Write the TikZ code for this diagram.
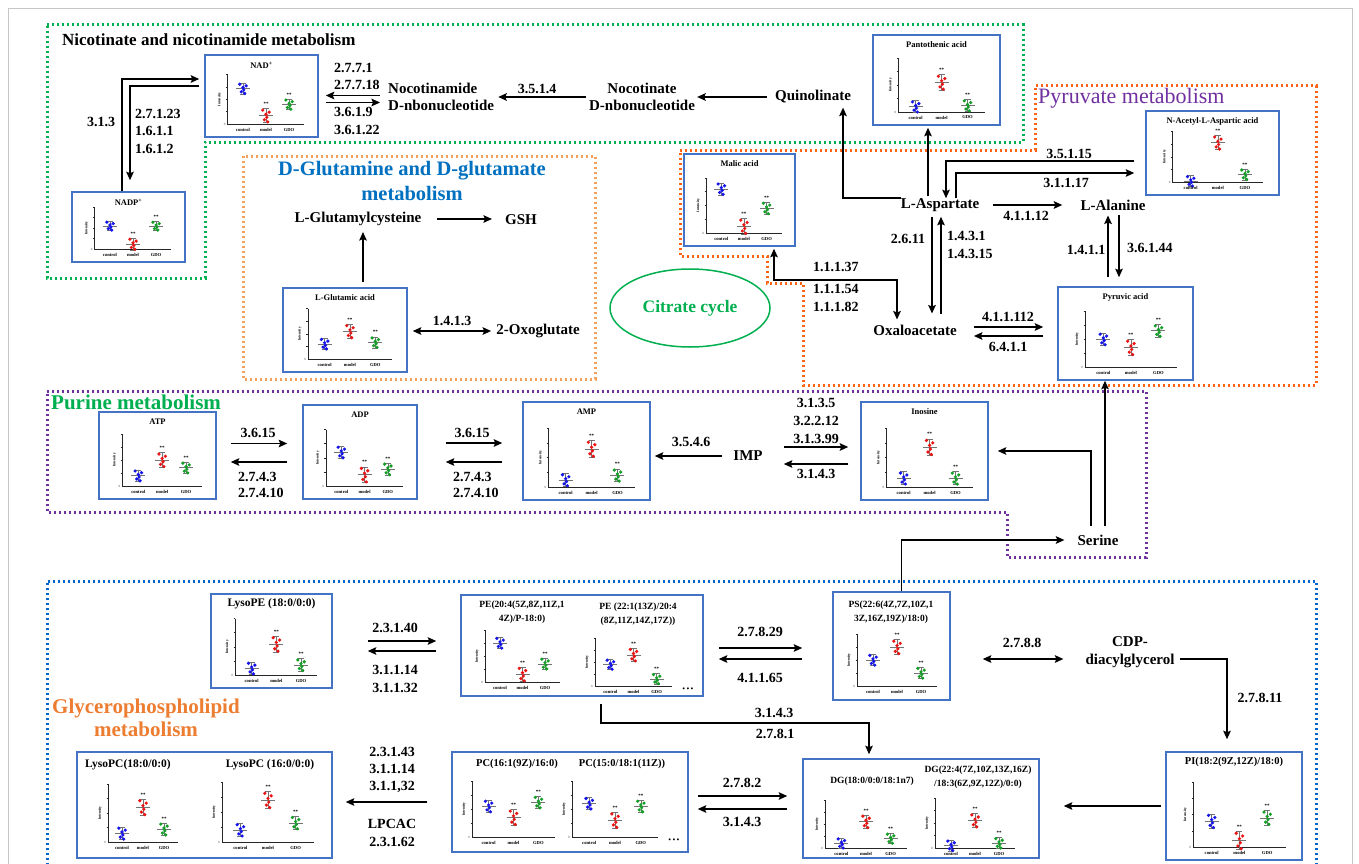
\documentclass[tikz,border=0pt]{standalone}
\usepackage{fontspec}
\setmainfont{Liberation Serif}
\usetikzlibrary{arrows.meta,shapes.geometric,fit,calc}
\definecolor{boxblue}{RGB}{68,114,196}
\definecolor{dgreen}{RGB}{0,176,80}
\definecolor{pyrorange}{RGB}{250,100,20}
\definecolor{gluorange}{RGB}{244,160,90}
\definecolor{dpurple}{RGB}{112,48,160}
\definecolor{dblue}{RGB}{0,102,204}
\definecolor{titblue}{RGB}{0,112,192}
\definecolor{titorange}{RGB}{237,125,49}
\definecolor{ptblue}{RGB}{20,20,235}
\definecolor{ptred}{RGB}{235,20,20}
\definecolor{ptgreen}{RGB}{20,160,40}
\tikzset{
 pbox/.style={draw=boxblue, line width=1.5pt, inner sep=0pt, fill=white},
 ptitle/.style={font=\fontsize{8.5}{10}\selectfont\bfseries, inner sep=0pt, align=center},
 ltitle/.style={font=\fontsize{9.5}{14}\selectfont\bfseries, inner sep=0pt, align=center},
 lbl/.style={font=\fontsize{14}{17.5}\selectfont\bfseries, inner sep=0pt, align=left},
 met/.style={font=\fontsize{15}{17.5}\selectfont\bfseries, inner sep=0pt},
 tip/.tip={Stealth[length=8.5pt,width=7.5pt,inset=1.5pt]},
 arr/.style={line width=1.7pt, -tip},
 darr/.style={line width=1.7pt, tip-tip},
 plotax/.style={line width=0.6pt, black!85},
 meanbar/.style={line width=0.5pt, black!55},
 xlab/.style={font=\fontsize{4.6}{5}\selectfont\bfseries, inner sep=0pt},
 ylab/.style={font=\fontsize{3.6}{4}\selectfont\bfseries, inner sep=0pt, rotate=90},
 ytk/.style={font=\fontsize{3.2}{4}\selectfont, inner sep=0pt, anchor=east, text=black!70},
 astk/.style={font=\fontsize{5}{5}\selectfont\bfseries, inner sep=0pt},
 dotb/.style={fill=ptblue}, dotr/.style={fill=ptred}, dotg/.style={fill=ptgreen},
 regbox/.style={line width=3pt, dash pattern=on 2.4pt off 2.6pt},
 grnbox/.style={regbox, draw=dgreen},
 orgbox/.style={regbox, draw=pyrorange},
 glubox/.style={regbox, draw=gluorange},
 purbox/.style={regbox, draw=dpurple},
 blubox/.style={regbox, draw=dblue},
 dotsn/.style={font=\fontsize{8}{8}\selectfont, inner sep=0pt},
}
\newcommand\mgrp[4]{%
 \draw[meanbar] ({#1-7},{-(#2)}) -- ({#1+7},{-(#2)});
 \draw[meanbar] ({#1},{-(#2)-(#3)}) -- ({#1},{-(#2)+(#3)});
 \draw[meanbar] ({#1-3},{-(#2)-(#3)}) -- ({#1+3},{-(#2)-(#3)});
 \draw[meanbar] ({#1-3},{-(#2)+(#3)}) -- ({#1+3},{-(#2)+(#3)});
 \foreach \dx/\dy in {-3.2/-0.8,-1.6/0.6,0/-0.2,1.7/0.9,3.2/-0.5,0.8/0.25}{\fill[#4] ({#1+(\dx)},{-(#2)+(\dy)*(#3)}) circle (1.8pt);}
}
\newcommand\mplot[7]{%
 \pgfmathsetmacro\mpw{#3}\pgfmathsetmacro\mph{#4}%
 \pgfmathsetmacro\mpb{(#5)*\mph}\pgfmathsetmacro\mpr{(#6)*\mph}\pgfmathsetmacro\mpg{(#7)*\mph}%
 \pgfmathsetmacro\mpcb{0.2*\mpw}\pgfmathsetmacro\mpcr{0.5*\mpw}\pgfmathsetmacro\mpcg{0.8*\mpw}%
 \pgfmathsetmacro\mps{0.11*\mph}\pgfmathsetmacro\mpsr{0.14*\mph}%
 \begin{scope}[shift={({#1},{#2})}]
  \draw[plotax] (0,{-\mph}) -- (0,0) -- (\mpw,0);
  \foreach \t in {0.25,0.5,0.75,1}{\draw[plotax] (-1.5,{-\t*\mph}) -- (0,{-\t*\mph});}
  \node[ytk] at (-2,0) {0};
  \node[ylab] at (-8,{-0.5*\mph}) {Intensity};
  \mgrp{\mpcb}{\mpb}{\mps}{dotb}
  \mgrp{\mpcr}{\mpr}{\mpsr}{dotr}
  \mgrp{\mpcg}{\mpg}{\mps}{dotg}
  \node[astk] at (\mpcr,{-\mpr-\mpsr-4.5}) {**};
  \node[astk] at (\mpcg,{-\mpg-\mps-4.5}) {**};
  \node[xlab] at (\mpcb,5.5) {control};
  \node[xlab] at (\mpcr,5.5) {model};
  \node[xlab] at (\mpcg,5.5) {GDO};
 \end{scope}}
\newcommand\oneplot[9]{%
 \node[pbox, fit={(#2,#3) (#4,#5)}] (#1) {};
 \node[ptitle] (#1t) at ({(#2+#4)/2},{#3+10}) {#6};
 \mplot{#2+0.2*(#4-#2)}{#5-13}{0.68*(#4-#2)}{0.6*(#5-#3)}{#7}{#8}{#9}}
\begin{document}
\begin{tikzpicture}[x=1pt,y=-1pt]
\useasboundingbox (0,0) rectangle (1359,864);
\fill[white] (0,0) rectangle (1359,864);
\draw[gray!45, line width=0.6pt] (8.5,8.5) rectangle (1352.5,880);
% region frames
\draw[grnbox] (47,25) -- (1023,25) -- (1023,142) -- (205,142) -- (205,278) -- (47,278) -- cycle;
\draw[orgbox] (680,150) -- (1035,150) -- (1035,86) -- (1316,86) -- (1316,385) -- (803,385) -- (803,283) -- (767,283) -- (767,256) -- (680,256) -- cycle;
\draw[glubox] (243,156) rectangle (595,379);
\draw[purbox] (47,391) -- (1146,391) -- (1146,557) -- (1007,557) -- (1007,512) -- (47,512) -- cycle;
\draw[blubox] (47,880) -- (47,581) -- (1316,581) -- (1316,880);
% titles
\node[anchor=west, font=\fontsize{17}{20}\selectfont\bfseries, inner sep=0pt] (tnic) at (62,40) {Nicotinate and nicotinamide metabolism};
\node[align=center, text=titblue, font=\fontsize{20.5}{25}\selectfont\bfseries, inner sep=0pt] (tglu) at (412,181) {D-Glutamine and D-glutamate\\metabolism};
\node[anchor=west, text=dpurple, font=\fontsize{22}{24}\selectfont, inner sep=0pt] (tpyr) at (1038,98) {Pyruvate metabolism};
\node[anchor=west, text=dgreen, font=\fontsize{21}{24}\selectfont\bfseries, inner sep=0pt] (tpur) at (51,402) {Purine metabolism};
\node[align=center, text=titorange, font=\fontsize{21}{23}\selectfont\bfseries, inner sep=0pt] (tgly) at (146,718) {Glycerophospholipid\\metabolism};
% plot boxes
\oneplot{nad}{205}{55}{318}{137}{NAD\textsuperscript{+}}{0.72}{0.17}{0.4}
\oneplot{nadp}{72}{192}{185}{262}{NADP\textsuperscript{+}}{0.55}{0.12}{0.55}
\oneplot{pan}{873}{35}{1000}{125}{Pantothenic acid}{0.1}{0.55}{0.12}
\oneplot{nac}{1146}{111}{1279}{195}{N-Acetyl-L-Aspartic acid}{0.02}{0.78}{0.15}
\oneplot{mal}{684}{154}{795}{246}{Malic acid}{0.8}{0.12}{0.45}
\oneplot{pyr}{1058}{287}{1193}{380}{Pyruvic acid}{0.5}{0.35}{0.65}
\oneplot{glu}{283}{288}{407}{372}{L-Glutamic acid}{0.3}{0.55}{0.33}
\oneplot{atp}{99}{412}{216}{499}{ATP}{0.2}{0.5}{0.35}
\oneplot{adp}{303}{405}{417}{499}{ADP}{0.6}{0.2}{0.3}
\oneplot{amp}{523}{402}{650}{500}{AMP}{0.12}{0.65}{0.2}
\oneplot{ino}{861}{402}{988}{500}{Inosine}{0.15}{0.68}{0.15}
\oneplot{lpe}{211}{594}{332}{688}{\fontsize{11.5}{12}\selectfont LysoPE (18:0/0:0)}{0.12}{0.55}{0.18}
\oneplot{pino}{1166}{752}{1302}{860}{\fontsize{10.5}{11}\selectfont PI(18:2(9Z,12Z)/18:0)}{0.4}{0.1}{0.45}
\node[pbox, fit={(833,592) (950,700)}] (ps) {};
\node[ltitle] (pst) at (891,612) {PS(22:6(4Z,7Z,10Z,1\\3Z,16Z,19Z)/18:0)};
\mplot{857}{686}{80}{52}{0.5}{0.75}{0.25}
\node[pbox, fit={(461,595) (703,696)}] (pe) {};
\node[ltitle] (pet1) at (522,612) {PE(20:4(5Z,8Z,11Z,1\\4Z)/P-18:0)};
\node[ltitle] (pet2) at (638,614) {PE (22:1(13Z)/20:4\\(8Z,11Z,14Z,17Z))};
\mplot{485}{682}{75}{52}{0.75}{0.15}{0.35}
\mplot{595}{686}{77}{48}{0.45}{0.65}{0.15}
\node[dotsn] (ped) at (688,690) {\textbullet\,\textbullet\,\textbullet};
\node[pbox, fit={(77,752) (332,858)}] (lpc) {};
\node[ltitle, font=\fontsize{11.5}{12}\selectfont\bfseries] (lpct1) at (128,765) {LysoPC(18:0/0:0)};
\node[ltitle, font=\fontsize{11.5}{12}\selectfont\bfseries] (lpct2) at (270,765) {LysoPC (16:0/0:0)};
\mplot{108}{842}{70}{58}{0.15}{0.6}{0.22}
\mplot{222}{842}{92}{60}{0.2}{0.7}{0.32}
\node[pbox, fit={(452,752) (688,852)}] (pc) {};
\node[ltitle, font=\fontsize{10.5}{12}\selectfont\bfseries] (pct1) at (517,764) {PC(16:1(9Z)/16:0)};
\node[ltitle, font=\fontsize{10.5}{12}\selectfont\bfseries] (pct2) at (622,764) {PC(15:0/18:1(11Z))};
\mplot{472}{837}{83}{56}{0.55}{0.35}{0.62}
\mplot{572}{837}{86}{56}{0.6}{0.3}{0.55}
\node[dotsn] (pcd) at (674,841) {\textbullet\,\textbullet\,\textbullet};
\node[pbox, fit={(803,759) (1039,858)}] (dg) {};
\node[ltitle] (dgt1) at (872,781) {DG(18:0/0:0/18:1n7)};
\node[ltitle] (dgt2) at (978,777) {DG(22:4(7Z,10Z,13Z,16Z)\\/18:3(6Z,9Z,12Z)/0:0)};
\mplot{825}{848}{82}{48}{0.1}{0.55}{0.2}
\mplot{935}{848}{80}{50}{0.05}{0.55}{0.1}
% metabolites
\node[met, align=left, anchor=west] (nmn) at (388,97) {Nocotinamide\\D-nbonucleotide};
\node[met, align=center] (nan) at (642,97) {Nocotinate\\D-nbonucleotide};
\node[met] (quin) at (813,97) {Quinolinate};
\node[met] (lasp) at (940,205) {L-Aspartate};
\node[met] (lala) at (1113,205) {L-Alanine};
\node[met] (oxal) at (915,330) {Oxaloacetate};
\node[met] (lgc) at (358,219) {L-Glutamylcysteine};
\node[met] (gsh) at (521,220) {GSH};
\node[met] (oxo) at (538,331) {2-Oxoglutate};
\node[met] (imp) at (748,456) {IMP};
\node[met] (ser) at (1098,540) {Serine};
\node[met, align=center] (cdp) at (1130,652) {CDP-\\diacylglycerol};
\node[draw=dgreen, line width=1.5pt, ellipse, minimum width=160pt, minimum height=78pt, text=dgreen, font=\fontsize{17.5}{20}\selectfont\bfseries] (cit) at (690,308) {Citrate cycle};
% enzyme labels
\node[lbl, anchor=west] (e1) at (334,68) {2.7.7.1};
\node[lbl, anchor=west] (e2) at (334,85) {2.7.7.18};
\node[lbl, anchor=west] (e3) at (334,112) {3.6.1.9};
\node[lbl, anchor=west] (e4) at (334,130) {3.6.1.22};
\node[lbl] (e5) at (101,122) {3.1.3};
\node[lbl, anchor=west] (e6) at (135,131) {2.7.1.23\\1.6.1.1\\1.6.1.2};
\node[lbl] (e7) at (537,89) {3.5.1.4};
\node[lbl] (e8) at (1069,154) {3.5.1.15};
\node[lbl] (e9) at (1066,183) {3.1.1.17};
\node[lbl] (e10) at (1026,216) {4.1.1.12};
\node[lbl] (e11) at (908,239) {2.6.11};
\node[lbl, anchor=west] (e12) at (947,236) {1.4.3.1};
\node[lbl, anchor=west] (e13) at (947,254) {1.4.3.15};
\node[lbl] (e14) at (1086,250) {1.4.1.1};
\node[lbl, anchor=west] (e15) at (1127,248) {3.6.1.44};
\node[lbl, anchor=west] (e16) at (813,267) {1.1.1.37};
\node[lbl, anchor=west] (e17) at (813,289) {1.1.1.54};
\node[lbl, anchor=west] (e18) at (813,307) {1.1.1.82};
\node[lbl] (e19) at (1008,317) {4.1.1.112};
\node[lbl] (e20) at (1008,347) {6.4.1.1};
\node[lbl] (e21) at (452,321) {1.4.1.3};
\node[lbl] (e22) at (258,433) {3.6.15};
\node[lbl, anchor=west] (e23) at (238,477) {2.7.4.3};
\node[lbl, anchor=west] (e24) at (238,493) {2.7.4.10};
\node[lbl] (e25) at (472,433) {3.6.15};
\node[lbl, anchor=west] (e26) at (453,477) {2.7.4.3};
\node[lbl, anchor=west] (e27) at (453,493) {2.7.4.10};
\node[lbl] (e28) at (691,442) {3.5.4.6};
\node[lbl] (e29) at (816,403) {3.1.3.5};
\node[lbl] (e30) at (816,421) {3.2.2.12};
\node[lbl] (e31) at (816,439) {3.1.3.99};
\node[lbl] (e32) at (816,474) {3.1.4.3};
\node[lbl] (e33) at (395,628) {2.3.1.40};
\node[lbl] (e34) at (395,670) {3.1.1.14};
\node[lbl] (e35) at (395,688) {3.1.1.32};
\node[lbl] (e36) at (760,632) {2.7.8.29};
\node[lbl] (e37) at (760,678) {4.1.1.65};
\node[lbl] (e38) at (1022,643) {2.7.8.8};
\node[lbl] (e39) at (1260,698) {2.7.8.11};
\node[lbl] (e40) at (774,713) {3.1.4.3};
\node[lbl] (e41) at (775,734) {2.7.8.1};
\node[lbl] (e42) at (392,752) {2.3.1.43};
\node[lbl] (e43) at (392,769) {3.1.1.14};
\node[lbl] (e44) at (392,787) {3.1.1,32};
\node[lbl] (e45) at (392,824) {LPCAC};
\node[lbl] (e46) at (392,842) {2.3.1.62};
\node[lbl] (e47) at (742,783) {2.7.8.2};
\node[lbl] (e48) at (742,822) {3.1.4.3};
% connectors: nicotinate
\coordinate (c1) at ([xshift=-6.5pt]nadp.north);
\draw[arr, shorten >=5pt] (c1) |- ([yshift=17pt]nad.west);
\coordinate (c2) at ([xshift=1.5pt]nadp.north);
\draw[arr, shorten <=5pt, shorten >=11pt] ([yshift=10pt]nad.west) -| (c2);
\coordinate (c3) at ([yshift=1.5pt]nmn.west);
\draw[arr, shorten <=8pt, shorten >=7pt] (c3) -- (c3 -| nad.east);
\coordinate (c4) at ([yshift=-5.5pt]nmn.west);
\draw[arr, shorten <=7pt, shorten >=8pt] (c4 -| nad.east) -- (c4);
\draw[arr, shorten <=3pt, shorten >=4pt] (nan.west) -- (nan.west -| nmn.east);
\draw[arr, shorten <=8pt, shorten >=2pt] (quin.west) -- (quin.west -| nan.east);
\coordinate (c5) at ([xshift=30pt]quin.south);
\draw[arr, shorten >=4pt] ([yshift=7pt]lasp.west) -| (c5);
\coordinate (c6) at ([xshift=-12pt]lasp.north);
\draw[arr, shorten <=2pt, shorten >=2pt] (c6) -- (c6 |- pan.south);
% pyruvate
\coordinate (c7) at ([xshift=6pt]lasp.north);
\draw[arr, shorten <=11pt] ([yshift=-8pt]nac.west) -| (c7);
\coordinate (c8) at ([xshift=16pt]lasp.north);
\draw[arr, shorten >=11pt] (c8) |- ([yshift=-20pt]nac.west);
\draw[arr, shorten <=14pt, shorten >=18pt] (lasp.east) -- (lasp.east -| lala.west);
\coordinate (c9) at ([xshift=-8pt]lasp.south);
\draw[arr, shorten <=5pt, shorten >=11pt] (c9) -- (c9 |- oxal.north);
\coordinate (c10) at ([xshift=1pt]lasp.south);
\draw[arr, shorten <=11pt, shorten >=5pt] (c10 |- oxal.north) -- (c10);
\coordinate (c11) at ([xshift=-5pt]lala.south);
\draw[arr, shorten <=9pt, shorten >=5pt] (c11 |- pyr.north) -- (c11);
\coordinate (c12) at ([xshift=6pt]lala.south);
\draw[arr, shorten <=5pt, shorten >=9pt] (c12) -- (c12 |- pyr.north);
\coordinate (c13) at ([yshift=3pt]oxal.east);
\draw[arr, shorten <=17pt, shorten >=14pt] (c13) -- (c13 -| pyr.west);
\coordinate (c14) at ([yshift=-6pt]oxal.east);
\draw[arr, shorten <=14pt, shorten >=17pt] (c14 -| pyr.west) -- (c14);
\coordinate (c15) at ([xshift=34.5pt]mal.south);
\coordinate (c16) at (897,280);
\draw[darr, shorten <=2pt, shorten >=5pt] (c15) |- (c16) -- (c16 |- oxal.north);
% glutamine
\draw[arr, shorten <=15pt, shorten >=13pt] (lgc.east) -- (lgc.east -| gsh.west);
\coordinate (c17) at ([xshift=18pt]glu.north);
\draw[arr, shorten <=5pt, shorten >=6pt] (c17) -- (c17 |- lgc.south);
\draw[darr, shorten <=5pt, shorten >=5pt] (glu.east |- oxo.west) -- (oxo.west);
% purine
\coordinate (c18) at ([yshift=12pt]atp.east);
\draw[arr, shorten <=14pt, shorten >=15pt] (c18) -- (c18 -| adp.west);
\coordinate (c19) at ([yshift=-6.5pt]atp.east);
\draw[arr, shorten <=15pt, shorten >=14pt] (c19 -| adp.west) -- (c19);
\coordinate (c20) at ([yshift=9pt]adp.east);
\draw[arr, shorten <=28pt, shorten >=20pt] (c20) -- (c20 -| amp.west);
\coordinate (c21) at ([yshift=-10pt]adp.east);
\draw[arr, shorten <=20pt, shorten >=28pt] (c21 -| amp.west) -- (c21);
\draw[arr, shorten <=11pt, shorten >=4pt] (imp.west) -- (imp.west -| amp.east);
\coordinate (c22) at ([yshift=9pt]imp.east);
\draw[arr, shorten <=21pt, shorten >=12pt] (c22) -- (c22 -| ino.west);
\coordinate (c23) at ([yshift=-8pt]imp.east);
\draw[arr, shorten <=12pt, shorten >=21pt] (c23 -| ino.west) -- (c23);
\draw[arr, shorten <=9pt, shorten >=9pt] ([xshift=-7pt]ser.north) |- (ino.east);
\coordinate (c24) at ([xshift=7pt]ser.north);
\draw[arr, shorten <=9pt] (c24) -- (c24 |- pyr.south);
\draw[arr, shorten >=13pt] ([xshift=10pt]ps.north) |- (ser.west);
% glycerophospholipid
\coordinate (c25) at (lpe.east);
\draw[arr, shorten <=35pt, shorten >=24pt] (c25) -- (c25 -| pe.west);
\coordinate (c26) at ([yshift=-10pt]lpe.east);
\draw[arr, shorten <=24pt, shorten >=35pt] (c26 -| pe.west) -- (c26);
\coordinate (c27) at ([yshift=-2.5pt]pe.east);
\draw[arr, shorten <=15pt, shorten >=30pt] (c27) -- (c27 -| ps.west);
\coordinate (c28) at ([yshift=-13.5pt]pe.east);
\draw[arr, shorten <=30pt, shorten >=15pt] (c28 -| ps.west) -- (c28);
\coordinate (c29) at ([yshift=-7pt]cdp.west);
\draw[darr, shorten <=32pt, shorten >=22pt] (c29 -| ps.east) -- (c29);
\draw[arr, shorten <=5pt, shorten >=12pt] (c29 -| cdp.east) -| ([xshift=-7pt]pino.north);
\coordinate (c30) at ([xshift=19pt]pe.south);
\coordinate (c31) at (869,723);
\draw[arr, shorten <=7pt, shorten >=4pt] (c30) |- (c31) -- (c31 |- dg.north);
\draw[arr, shorten <=24pt, shorten >=13pt] (pc.west) -- (pc.west -| lpc.east);
\coordinate (c32) at ([yshift=6pt]pc.east);
\draw[arr, shorten <=9pt, shorten >=15pt] (c32) -- (c32 -| dg.west);
\coordinate (c33) at ([yshift=-7pt]pc.east);
\draw[arr, shorten <=15pt, shorten >=9pt] (c33 -| dg.west) -- (c33);
\draw[arr, shorten <=4pt, shorten >=24pt] (pino.west) -- (pino.west -| dg.east);
\end{tikzpicture}
\end{document}
